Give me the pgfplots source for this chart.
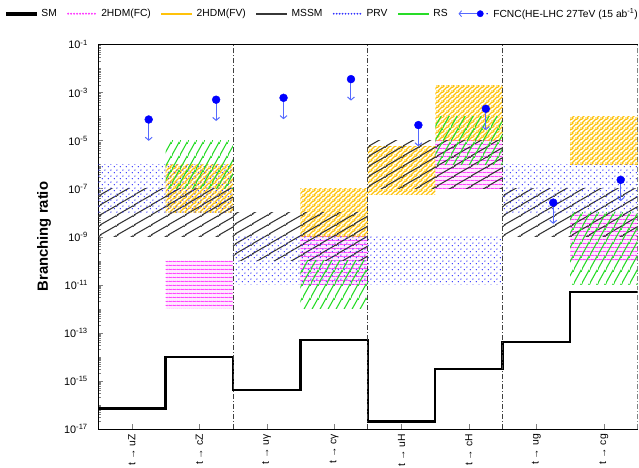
\documentclass[border=0pt]{standalone}
\usepackage{fontspec}
\setmainfont{Liberation Sans}
\usepackage{pgfplots}
\pgfplotsset{compat=1.18}
\usetikzlibrary{patterns,arrows.meta}

\definecolor{fvorange}{RGB}{255,194,10}
\definecolor{rsgreen}{RGB}{40,220,40}
\definecolor{fcpink}{RGB}{255,50,255}
\definecolor{prvblue}{RGB}{50,50,255}
\definecolor{mssmgray}{RGB}{55,55,55}
\definecolor{markblue}{RGB}{0,0,255}
\definecolor{arrowblue}{RGB}{85,105,255}

% coloured tiles: lines y = s x + n b in an a x b cell
\pgfdeclarepatterninherentlycolored{mssmpat}{\pgfqpoint{0pt}{0pt}}{\pgfqpoint{17pt}{9.815pt}}{\pgfqpoint{17pt}{9.815pt}}{%
  \pgfsetstrokecolor{mssmgray}\pgfsetlinewidth{1.1pt}%
  \pgfpathmoveto{\pgfqpoint{-17pt}{-19.63pt}}\pgfpathlineto{\pgfqpoint{34pt}{9.815pt}}%
  \pgfpathmoveto{\pgfqpoint{-17pt}{-9.815pt}}\pgfpathlineto{\pgfqpoint{34pt}{19.63pt}}%
  \pgfpathmoveto{\pgfqpoint{-17pt}{0pt}}\pgfpathlineto{\pgfqpoint{34pt}{29.445pt}}%
  \pgfusepath{stroke}}
\pgfdeclarepatterninherentlycolored{fvpat}{\pgfqpoint{0pt}{0pt}}{\pgfqpoint{4.525pt}{4.525pt}}{\pgfqpoint{4.525pt}{4.525pt}}{%
  \pgfsetstrokecolor{fvorange}\pgfsetlinewidth{1.4pt}%
  \pgfpathmoveto{\pgfqpoint{-4.525pt}{-9.05pt}}\pgfpathlineto{\pgfqpoint{9.05pt}{4.525pt}}%
  \pgfpathmoveto{\pgfqpoint{-4.525pt}{-4.525pt}}\pgfpathlineto{\pgfqpoint{9.05pt}{9.05pt}}%
  \pgfpathmoveto{\pgfqpoint{-4.525pt}{0pt}}\pgfpathlineto{\pgfqpoint{9.05pt}{13.575pt}}%
  \pgfusepath{stroke}}
\pgfdeclarepatterninherentlycolored{rspat}{\pgfqpoint{0pt}{0pt}}{\pgfqpoint{8.314pt}{14.4pt}}{\pgfqpoint{8.314pt}{14.4pt}}{%
  \pgfsetstrokecolor{rsgreen}\pgfsetlinewidth{1.2pt}%
  \pgfpathmoveto{\pgfqpoint{-8.314pt}{-28.8pt}}\pgfpathlineto{\pgfqpoint{16.628pt}{14.4pt}}%
  \pgfpathmoveto{\pgfqpoint{-8.314pt}{-14.4pt}}\pgfpathlineto{\pgfqpoint{16.628pt}{28.8pt}}%
  \pgfpathmoveto{\pgfqpoint{-8.314pt}{0pt}}\pgfpathlineto{\pgfqpoint{16.628pt}{43.2pt}}%
  \pgfusepath{stroke}}
% dotted rows, two dots per cell
\pgfdeclarepatterninherentlycolored{fcpat}{\pgfqpoint{0pt}{0pt}}{\pgfqpoint{3.6pt}{3.6pt}}{\pgfqpoint{3.6pt}{3.6pt}}{%
  \pgfsetfillcolor{fcpink}%
  \pgfpathcircle{\pgfqpoint{0.9pt}{1.8pt}}{0.75pt}%
  \pgfpathcircle{\pgfqpoint{2.7pt}{1.8pt}}{0.75pt}\pgfusepath{fill}}
\pgfdeclarepatterninherentlycolored{prvpat}{\pgfqpoint{0pt}{0pt}}{\pgfqpoint{5.657pt}{5.657pt}}{\pgfqpoint{5.657pt}{5.657pt}}{%
  \pgfsetfillcolor{prvblue}%
  \pgfpathcircle{\pgfqpoint{1.414pt}{1.414pt}}{0.75pt}%
  \pgfpathcircle{\pgfqpoint{4.243pt}{4.243pt}}{0.75pt}\pgfusepath{fill}}

\pgfplotsset{
  mssm/.style={draw=none, forget plot, pattern=mssmpat},
  fv/.style={draw=none, forget plot, pattern=fvpat},
  rs/.style={draw=none, forget plot, pattern=rspat},
  fc/.style={draw=none, forget plot, pattern=fcpat},
  fctint/.style={draw=none, forget plot, fill=fcpink!10},
  prv/.style={draw=none, forget plot, pattern=prvpat},
  fcncarrow/.style={forget plot, arrowblue, line width=1pt, -{Straight Barb[length=3pt,width=7pt]}},
}

\begin{document}
\def\minorlist{2e-17}
\foreach \e in {-17,...,-2}{\foreach \m in {2,...,9}{\xdef\minorlist{\minorlist,\m e\e}}}
\foreach \e in {-16,-14,...,-2}{\xdef\minorlist{\minorlist,1e\e}}
\begin{tikzpicture}
\begin{axis}[
    scale only axis,
    width=546pt, height=389pt,
    xmin=0, xmax=8,
    ymode=log, ymin=1e-17, ymax=1e-1,
    axis x line*=box, axis y line*=left,
    xtick pos=bottom, ytick pos=left,
    tick align=inside,
    major tick length=5pt, minor tick length=2.5pt,
    xtick={0.5,1.5,2.5,3.5,4.5,5.5,6.5,7.5},
    xticklabels={t → uZ, t → cZ, t → uγ, t → cγ, t → uH, t → cH, t → ug, t → cg},
    x tick label style={rotate=90, anchor=east, font=\fontsize{10.5}{12}\selectfont},
    xticklabel shift=2pt,
    ytick={1e-17,1e-15,1e-13,1e-11,1e-9,1e-7,1e-5,1e-3,1e-1},
    yticklabels={10\textsuperscript{-17},10\textsuperscript{-15},10\textsuperscript{-13},10\textsuperscript{-11},10\textsuperscript{-9},10\textsuperscript{-7},10\textsuperscript{-5},10\textsuperscript{-3},10\textsuperscript{-1}},
    minor ytick/.expanded=\minorlist,
    y tick label style={font=\fontsize{11}{12}\selectfont, xshift=-7pt},
    ylabel={Branching ratio},
    ylabel style={at={(axis description cs:-0.1,0.5)}, anchor=center, font=\bfseries\fontsize{15}{17}\selectfont},
    legend style={at={(axis description cs:1.01,1.08)}, anchor=east, draw=none, fill=none,
      legend columns=-1, font=\fontsize{10.4}{12}\selectfont,
      /tikz/every odd column/.append style={column sep=3.5pt},
      /tikz/every even column/.append style={column sep=8.5pt}},
    legend cell align=left,
]
\addlegendimage{legend image code/.code={\fill[black] (0pt,-1.1pt) rectangle (30pt,1.1pt);}}
\addlegendentry{SM}
\addlegendimage{legend image code/.code={\foreach \i in {0,...,9}{\fill[fcpink] (\i*3pt+1.5pt,0pt) circle (0.75pt);}}}
\addlegendentry{2HDM(FC)}
\addlegendimage{legend image code/.code={\fill[fvorange] (0pt,-0.75pt) rectangle (30pt,0.75pt);}}
\addlegendentry{2HDM(FV)}
\addlegendimage{legend image code/.code={\fill[mssmgray] (0pt,-0.6pt) rectangle (30pt,0.6pt);}}
\addlegendentry{MSSM}
\addlegendimage{legend image code/.code={\foreach \i in {0,...,9}{\fill[prvblue] (\i*3pt+1.5pt,0pt) circle (0.65pt);}}}
\addlegendentry{PRV}
\addlegendimage{legend image code/.code={\fill[rsgreen] (0pt,-0.75pt) rectangle (30pt,0.75pt);}}
\addlegendentry{RS}
\addlegendimage{legend image code/.code={%
  \draw[arrowblue, line width=0.9pt, -{Straight Barb[length=2.5pt,width=6pt]}] (19pt,0pt) -- (0pt,0pt);
  \fill[markblue] (22pt,0pt) circle (3.2pt);
  \fill[markblue] (29pt,0pt) circle (0.5pt);}}
\addlegendentry{FCNC(HE-LHC 27TeV (15 ab\textsuperscript{-1})}

% 2HDM(FC): faint tint, then dotted rows
\addplot[fctint] coordinates {(1,1e-12) (2,1e-12) (2,1e-10) (1,1e-10)} -- cycle;
\addplot[fctint] coordinates {(3,1e-11) (4,1e-11) (4,1e-9) (3,1e-9)} -- cycle;
\addplot[fctint] coordinates {(5,1e-7) (6,1e-7) (6,1e-5) (5,1e-5)} -- cycle;
\addplot[fctint] coordinates {(7,1e-10) (8,1e-10) (8,1e-8) (7,1e-8)} -- cycle;
\addplot[fc] coordinates {(1,1e-12) (2,1e-12) (2,1e-10) (1,1e-10)} -- cycle;
\addplot[fc] coordinates {(3,1e-11) (4,1e-11) (4,1e-9) (3,1e-9)} -- cycle;
\addplot[fc] coordinates {(5,1e-7) (6,1e-7) (6,1e-5) (5,1e-5)} -- cycle;
\addplot[fc] coordinates {(7,1e-10) (8,1e-10) (8,1e-8) (7,1e-8)} -- cycle;
% 2HDM(FV)
\addplot[fv] coordinates {(1,1e-8) (2,1e-8) (2,1e-6) (1,1e-6)} -- cycle;
\addplot[fv] coordinates {(3,1e-9) (4,1e-9) (4,1e-7) (3,1e-7)} -- cycle;
\addplot[fv] coordinates {(4,5.6e-8) (5,5.6e-8) (5,5.6e-6) (4,5.6e-6)} -- cycle;
\addplot[fv] coordinates {(5,1e-5) (6,1e-5) (6,2e-3) (5,2e-3)} -- cycle;
\addplot[fv] coordinates {(7,1e-6) (8,1e-6) (8,1e-4) (7,1e-4)} -- cycle;
% MSSM
\addplot[mssm] coordinates {(0,1e-9) (2,1e-9) (2,1e-7) (0,1e-7)} -- cycle;
\addplot[mssm] coordinates {(2,1e-10) (4,1e-10) (4,1e-8) (2,1e-8)} -- cycle;
\addplot[mssm] coordinates {(4,1e-7) (6,1e-7) (6,1e-5) (4,1e-5)} -- cycle;
\addplot[mssm] coordinates {(6,1e-9) (8,1e-9) (8,1e-7) (6,1e-7)} -- cycle;
% PRV
\addplot[prv] coordinates {(0,1e-8) (2,1e-8) (2,1e-6) (0,1e-6)} -- cycle;
\addplot[prv] coordinates {(2,1e-11) (6,1e-11) (6,1e-9) (2,1e-9)} -- cycle;
\addplot[prv] coordinates {(6,1e-8) (8,1e-8) (8,1e-6) (6,1e-6)} -- cycle;
% RS
\addplot[rs] coordinates {(1,1e-7) (2,1e-7) (2,1e-5) (1,1e-5)} -- cycle;
\addplot[rs] coordinates {(3,1e-12) (4,1e-12) (4,1e-10) (3,1e-10)} -- cycle;
\addplot[rs] coordinates {(5,1e-6) (6,1e-6) (6,1e-4) (5,1e-4)} -- cycle;
\addplot[rs] coordinates {(7,1e-11) (8,1e-11) (8,1e-8) (7,1e-8)} -- cycle;

% SM
\addplot[forget plot, const plot, black, line width=2.4pt] coordinates {
  (0,7e-17) (1,1e-14) (2,4e-16) (3,5e-14) (4,2e-17) (5,3e-15) (6,4e-14) (7,5e-12) (8,5e-12)};

% group separators
\addplot[forget plot, black!75, line width=0.8pt, dash pattern=on 5pt off 2pt on 1pt off 2pt] coordinates {(2,1e-17) (2,1e-1)};
\addplot[forget plot, black!75, line width=0.8pt, dash pattern=on 5pt off 2pt on 1pt off 2pt] coordinates {(4,1e-17) (4,1e-1)};
\addplot[forget plot, black!75, line width=0.8pt, dash pattern=on 5pt off 2pt on 1pt off 2pt] coordinates {(6,1e-17) (6,1e-1)};
\addplot[forget plot, black!75, line width=0.8pt, dash pattern=on 5pt off 2pt on 1pt off 2pt] coordinates {(8,1e-17) (8,1e-1)};

% FCNC limits
\addplot[fcncarrow] coordinates {(0.75,7.5e-5) (0.75,9.7e-6)};
\addplot[fcncarrow] coordinates {(1.75,5e-4) (1.75,6.5e-5)};
\addplot[fcncarrow] coordinates {(2.75,6e-4) (2.75,7.7e-5)};
\addplot[fcncarrow] coordinates {(3.75,3.6e-3) (3.75,4.6e-4)};
\addplot[fcncarrow] coordinates {(4.75,4.4e-5) (4.75,5.7e-6)};
\addplot[fcncarrow] coordinates {(5.75,2.1e-4) (5.75,2.7e-5)};
\addplot[fcncarrow] coordinates {(6.75,2.6e-8) (6.75,3.4e-9)};
\addplot[fcncarrow] coordinates {(7.75,2.3e-7) (7.75,3e-8)};
\addplot[forget plot, only marks, mark=*, mark size=4pt, markblue] coordinates {
  (0.75,7.5e-5) (1.75,5e-4) (2.75,6e-4) (3.75,3.6e-3) (4.75,4.4e-5) (5.75,2.1e-4) (6.75,2.6e-8) (7.75,2.3e-7)};

\coordinate (sw) at (rel axis cs:0,0);
\coordinate (ne) at (rel axis cs:1,1);
\end{axis}
\pgfresetboundingbox
\useasboundingbox ([xshift=-91pt,yshift=-39pt]sw) rectangle ([xshift=1.5pt,yshift=45pt]ne);
\end{tikzpicture}
\end{document}
